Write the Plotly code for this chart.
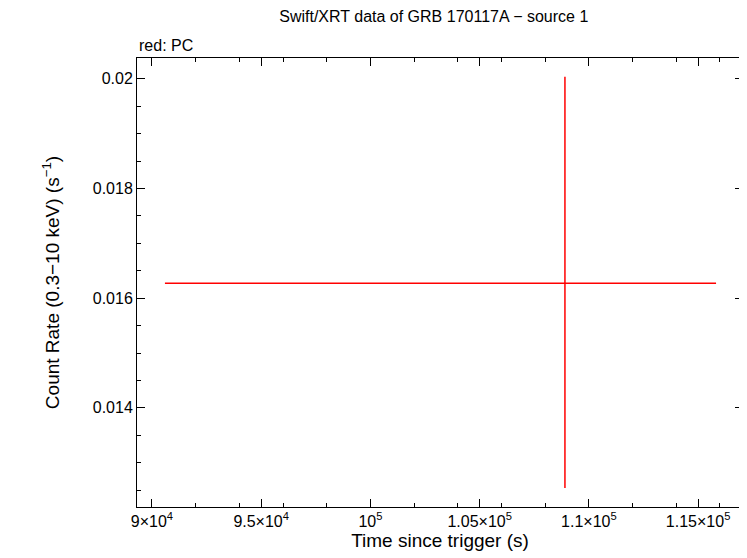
import plotly.graph_objects as go

t = [108904]
t_minus = [108904 - 90594]
t_plus = [115822 - 108904]
rate = [0.016274]
rate_plus = [0.02004 - 0.016274]
rate_minus = [0.016274 - 0.012539]

xtick_vals = [90000, 95000, 100000, 105000, 110000, 115000]
xtick_text = ["9×10<sup>4</sup>", "9.5×10<sup>4</sup>", "10<sup>5</sup>", "1.05×10<sup>5</sup>", "1.1×10<sup>5</sup>", "1.15×10<sup>5</sup>"]
ytick_vals = [0.014, 0.016, 0.018, 0.02]
ytick_text = ["0.014", "0.016", "0.018", "0.02"]

fig = go.Figure(go.Scatter(
    x=t, y=rate, mode="markers", marker=dict(size=1, color="red"),
    error_x=dict(type="data", symmetric=False, array=t_plus, arrayminus=t_minus, color="red", width=0, thickness=1.5),
    error_y=dict(type="data", symmetric=False, array=rate_plus, arrayminus=rate_minus, color="red", width=0, thickness=1.5),
))
axis_common = dict(showgrid=False, zeroline=False, showline=True, linecolor="black", linewidth=1,
                   mirror="allticks", ticks="inside", ticklen=8, tickcolor="black",
                   minor=dict(ticks="inside", ticklen=4, tickcolor="black"))
fig.update_xaxes(range=[89315, 117055], tickvals=xtick_vals, ticktext=xtick_text,
                 title=dict(text="Time since trigger (s)", standoff=2), **axis_common)
fig.update_yaxes(range=[0.012192, 0.02038], tickvals=ytick_vals, ticktext=ytick_text,
                 title=dict(text="Count Rate (0.3−10 keV) (s<sup>−1</sup>)", standoff=28), **axis_common)
fig.update_layout(
    width=747, height=558, plot_bgcolor="white", paper_bgcolor="white",
    margin=dict(l=129, r=12, t=50, b=59),
    font=dict(family="Liberation Sans, Arial", size=16, color="black"),
    showlegend=False,
    title=dict(text="Swift/XRT data of GRB 170117A − source 1", x=0.57, xanchor="center", y=0.995, yanchor="top", font=dict(size=16)),
    annotations=[dict(text="red: PC", xref="paper", yref="paper", x=0, y=1.005, xanchor="left", yanchor="bottom",
                      showarrow=False, font=dict(size=16))],
)
fig.write_html("out.html")
